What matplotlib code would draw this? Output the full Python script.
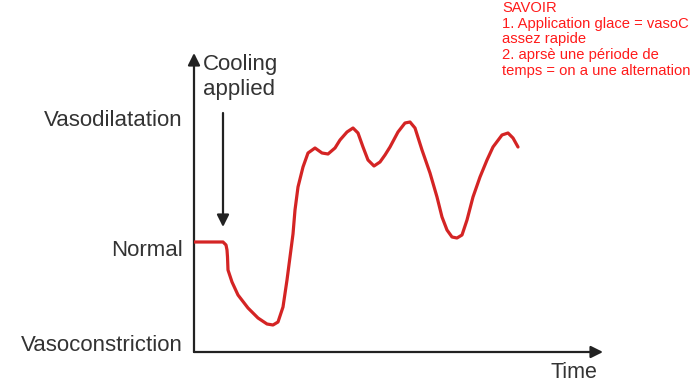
import matplotlib.pyplot as plt
from matplotlib.patches import FancyArrowPatch

plt.rcParams['font.family'] = ['Liberation Sans', 'DejaVu Sans']

# response curve (time, level)
time = [0, 29, 32, 33, 33.5, 34, 38, 44, 54, 64, 73, 79, 84, 89, 93, 96, 99, 101, 104,
        109, 114, 121, 128, 134, 141, 146, 153, 159, 164, 169, 174, 180, 186, 191, 196,
        204, 211, 216, 221, 228, 236, 243, 248, 253, 258, 263, 268, 273, 279, 286, 293,
        299, 308, 314, 319, 324]
level = [110, 110, 107, 102, 95, 82, 70, 57, 44, 34, 28, 27, 30, 45, 72, 95, 118, 142, 165,
         185, 199, 204, 199, 198, 204, 212, 220, 224, 219, 205, 192, 186, 190, 197, 205,
         220, 229, 230, 224, 202, 179, 155, 135, 122, 115, 114, 117, 132, 155, 175, 192,
         205, 217, 219, 214, 205]

tick_pos = [234, 104, 9]
tick_labels = ['Vasodilatation', 'Normal', 'Vasoconstriction']

cooling_time = 29
note = ('SAVOIR\n1. Application glace = vasoC\nassez rapide\n'
        '2. aprsè une période de\ntemps = on a une alternation')

txt = '#333333'
fig = plt.figure(figsize=(6.97, 3.85), dpi=100)
ax = fig.add_axes([194 / 697, 33 / 385, 409 / 697, 299 / 385])
ax.set_xlim(0, 409)
ax.set_ylim(0, 299)
for s in ax.spines.values():
    s.set_visible(False)

ax.plot(time, level, color='#d42424', lw=2.3, solid_joinstyle='round', solid_capstyle='round')

ax.set_xticks([])
ax.set_yticks(tick_pos)
ax.set_yticklabels(tick_labels, fontsize=16, color=txt)
ax.tick_params(axis='y', length=0, pad=8)

# axes drawn as arrows
for start, end in [((0, 0), (0, 1)), ((0, 0), (1, 0))]:
    ax.add_patch(FancyArrowPatch(start, end, transform=ax.transAxes, arrowstyle='-|>',
                                 mutation_scale=18, lw=1.6, color='#222222',
                                 shrinkA=0, shrinkB=0, clip_on=False))

ax.text(0.93, -0.07, 'Time', transform=ax.transAxes, fontsize=15.5, color=txt,
        ha='center', va='center')

ax.text(9, 275, 'Cooling\napplied', fontsize=16, color=txt, ha='left', va='center',
        linespacing=1.2)
ax.annotate('', xy=(cooling_time, 125), xytext=(cooling_time, 239),
            arrowprops=dict(arrowstyle='-|>', mutation_scale=18, lw=1.6, color='#222222',
                            shrinkA=0, shrinkB=0))

fig.text(502 / 697, 1 - 1 / 385, note, fontsize=10.6, color='#ff1a1a', ha='left', va='top',
         linespacing=1.15)

plt.savefig('out.png', dpi=100)
